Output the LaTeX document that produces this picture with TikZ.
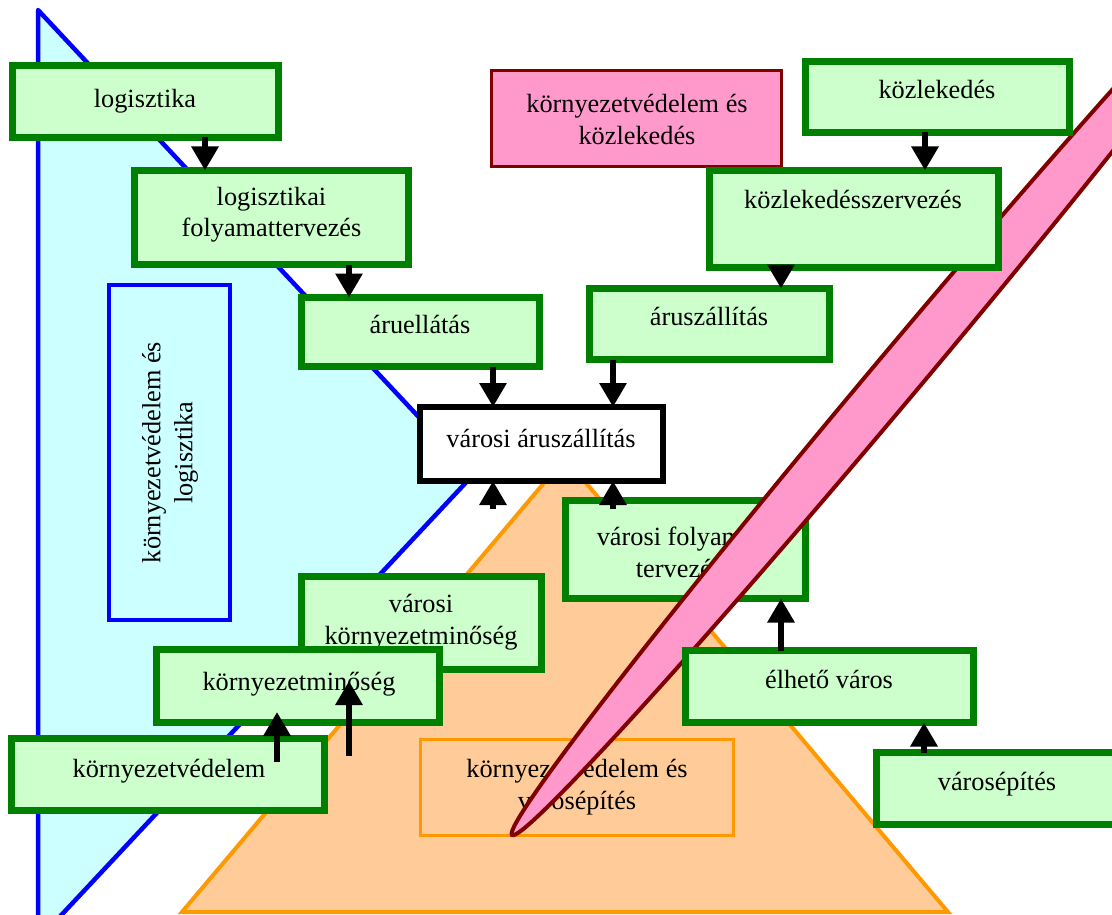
\documentclass[tikz,border=0pt]{standalone}
\usepackage{fontspec}
\setmainfont{Liberation Serif}
\usetikzlibrary{arrows.meta,calc}
\definecolor{gfill}{HTML}{CCFFCC}
\definecolor{gline}{HTML}{008000}
\definecolor{bfill}{HTML}{CCFFFF}
\definecolor{bline}{HTML}{0000FF}
\definecolor{ofill}{HTML}{FFCC99}
\definecolor{oline}{HTML}{FF9900}
\definecolor{pfill}{HTML}{FF99CC}
\definecolor{pline}{HTML}{800000}
\newcommand\twol[2]{\begin{tabular}[t]{@{}c@{}}#1\\#2\end{tabular}}
\begin{document}
\begin{tikzpicture}[x=1pt,y=-1pt,
  font=\fontsize{26.3}{32}\selectfont,
  box/.style={inner sep=0pt, outer sep=0pt},
  gbox/.style={box, draw=gline, fill=gfill, line width=7pt},
  txt/.style={anchor=base, inner sep=0pt, outer sep=0pt},
  arr/.style={line width=6pt, -{Triangle[width=26pt,length=24pt]}},
  shape blue/.style={draw=bline, fill=bfill, line width=4.5pt, line join=round},
  shape orange/.style={draw=oline, fill=ofill, line width=4pt},
  blade/.style={draw=pline, fill=pfill, line width=4pt},
]
\useasboundingbox (0,0) rectangle (1112,915);
\fill[white] (0,0) rectangle (1112,915);
\clip (0,0) rectangle (1112,915);

% background shapes
\draw[shape blue] (38,10) -- (473,475) -- (38,940) -- cycle;
\draw[shape orange] (182,912) -- (948,912) -- (565,458) -- cycle;

% blue rectangle
\node[box, draw=bline, fill=bfill, line width=4pt, minimum width=121pt, minimum height=335pt] (BL) at (169.5,452.5) {};
\node[rotate=90, inner sep=0pt] at (170,452.5) {\begin{tabular}{@{}c@{}}környezetvédelem és\\logisztika\end{tabular}};

% orange rectangle
\node[box, draw=oline, fill=ofill, line width=3pt, minimum width=313pt, minimum height=96pt] (OR) at (577,787.5) {};
\node[txt] at (577,777) {\twol{környezetvédelem és}{városépítés}};

% box under the blade
\node[gbox, minimum width=240pt, minimum height=98pt] (VF) at (685.5,549.5) {};
\node[txt] at (679,545) {\twol{városi folyamat}{tervezés}};

% blade
\draw[blade, rotate around={50:(897.7,375.4)}] (897.7,375.4) ellipse [x radius=600, y radius=24];

% pink box
\node[box, draw=pline, fill=pfill, line width=3pt, minimum width=290pt, minimum height=96pt] (KK) at (636.5,118.5) {};
\node[txt] at (637,113) {\twol{környezetvédelem és}{közlekedés}};

% green boxes
\node[gbox, minimum width=266pt, minimum height=72pt] (L) at (145.5,101.5) {};
\node[txt] at (145,108) {logisztika};

\node[gbox, minimum width=274pt, minimum height=94pt] (LF) at (271.5,217.5) {};
\node[txt] at (271.5,205) {\twol{logisztikai}{folyamattervezés}};

\node[gbox, minimum width=238pt, minimum height=69pt] (AE) at (420.5,332) {};
\node[txt] at (420,333) {áruellátás};

\node[gbox, minimum width=240pt, minimum height=71pt] (AS) at (709.5,324) {};
\node[txt] at (709,325) {áruszállítás};

\node[gbox, minimum width=264pt, minimum height=71pt] (K) at (937.5,97) {};
\node[txt] at (937,99) {közlekedés};

\node[gbox, minimum width=289pt, minimum height=97pt] (KSZ) at (854,219) {};
\node[txt] at (853,208) {közlekedésszervezés};

\node[gbox, minimum width=240pt, minimum height=93pt] (VK) at (421.5,623) {};
\node[txt] at (421,612) {\twol{városi}{környezetminőség}};

\node[gbox, minimum width=283pt, minimum height=73pt] (KM) at (298,686) {};
\node[txt] at (299,690) {környezetminőség};

\node[gbox, minimum width=313pt, minimum height=72pt] (KV) at (168,774.5) {};
\node[txt] at (169,777) {környezetvédelem};

\node[gbox, minimum width=288pt, minimum height=72pt] (EV) at (829.5,686.5) {};
\node[txt] at (829,688) {élhető város};

\node[gbox, minimum width=241pt, minimum height=72pt] (VE) at (997,788.5) {};
\node[txt] at (997,790) {városépítés};

% central black box
\node[box, draw=black, fill=white, line width=6pt, minimum width=243pt, minimum height=74pt] (VA) at (541.5,444) {};
\node[txt] at (541,447) {városi áruszállítás};

% free ends
\coordinate (e1) at (493,509);
\coordinate (e2) at (613,509);
\coordinate (e3) at (277,762);
\coordinate (e4) at (349,756);

% connectors
\draw[arr] ($(L.south)+(59.5,0)$) -- ($(LF.north)+(-66.5,0)$);
\draw[arr] ($(LF.south)+(77.5,0)$) -- ($(AE.north)+(-71.5,0)$);
\draw[arr] ($(K.south)+(-12.5,0)$) -- ($(KSZ.north)+(71,0)$);
\draw[arr] ($(KSZ.south)+(-73,0)$) -- ($(AS.north)+(71.5,0)$);
\draw[arr] ($(AE.south)+(72.5,0)$) -- ($(VA.north)+(-48.5,0)$);
\draw[arr] ($(AS.south)+(-96.5,0)$) -- ($(VA.north)+(71.5,0)$);
\draw[arr] (e1) -- ($(VA.south)+(-48.5,0)$);
\draw[arr] (e2) -- ($(VA.south)+(71.5,0)$);
\draw[arr] ($(EV.north)+(-48.5,0)$) -- ($(VF.south)+(95.5,0)$);
\draw[arr] ($(VE.north)+(-73,0)$) -- ($(EV.south)+(94.5,0)$);
\draw[arr] (e3) -- ($(KM.south)+(-21,-10.5)$);
\draw[arr] (e4) -- ($(KM.center)+(51,-5)$);
\end{tikzpicture}
\end{document}
